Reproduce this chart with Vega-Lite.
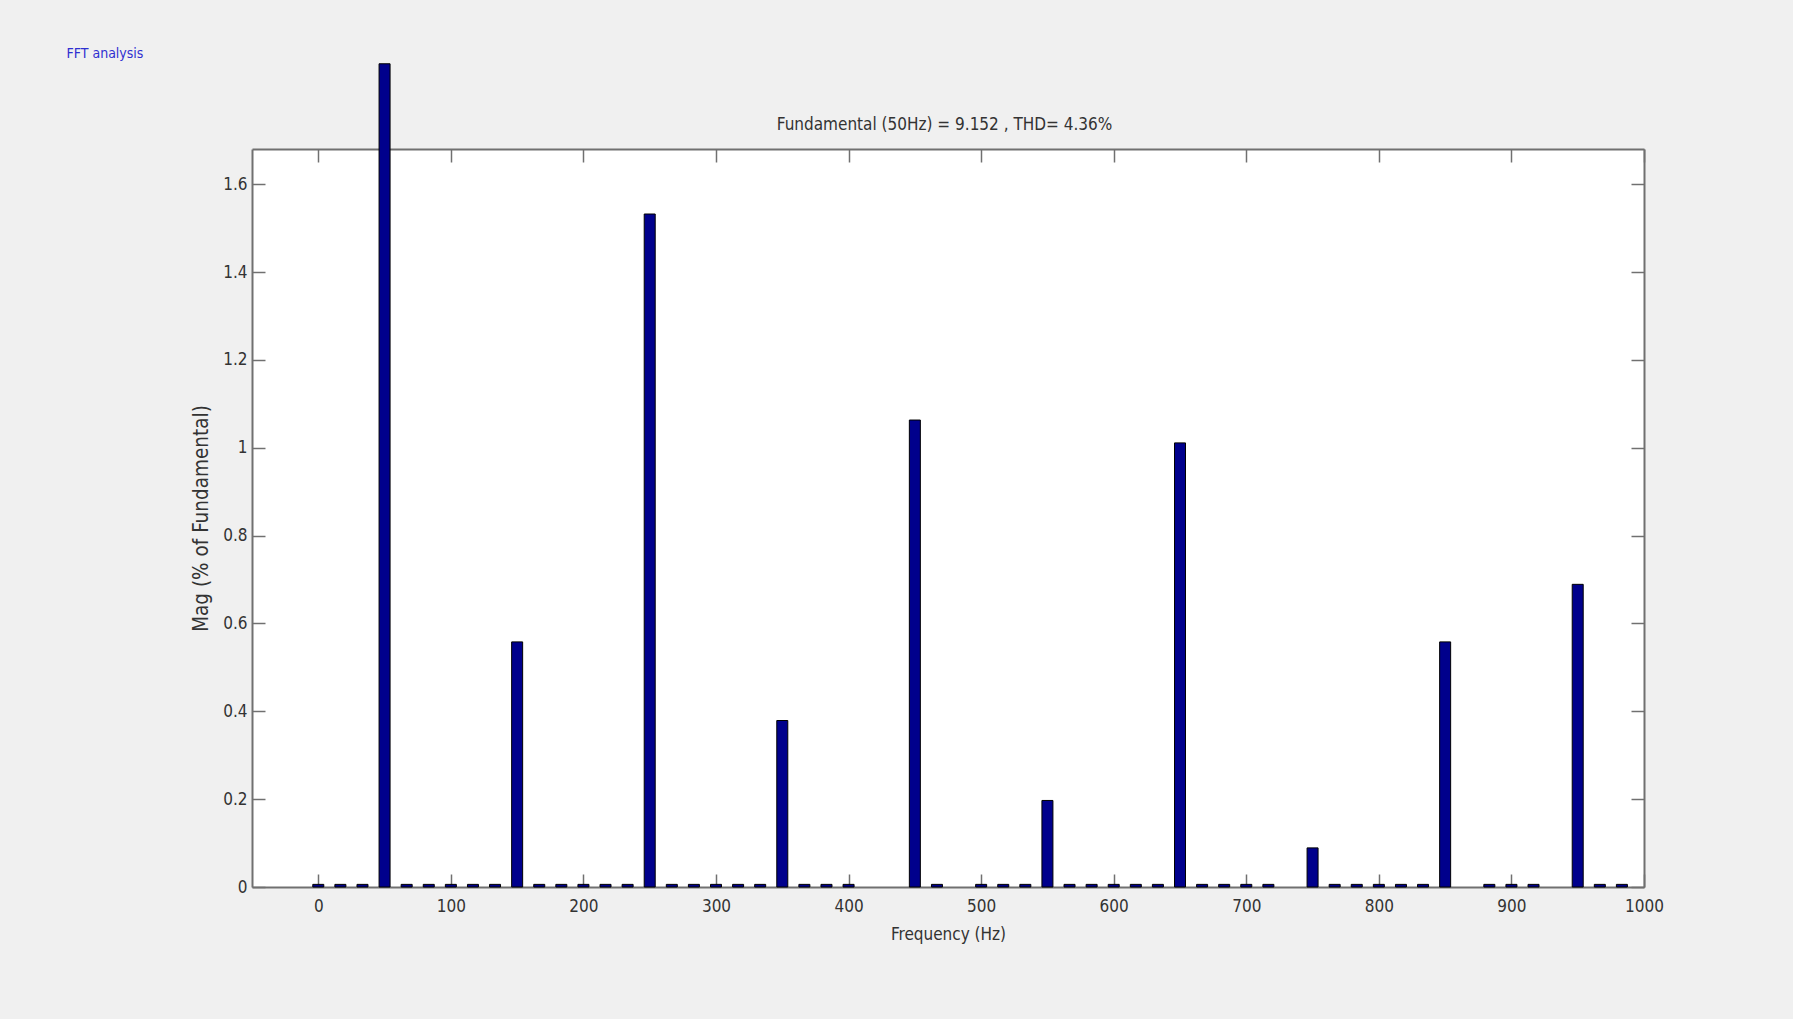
{
  "$schema": "https://vega.github.io/schema/vega-lite/v6.json",
  "autosize": {"type": "none"},
  "width": 1392,
  "height": 738,
  "padding": {"left": 252, "top": 149, "right": 149, "bottom": 132},
  "background": "#f0f0f0",
  "config": {
    "view": {"fill": "white", "stroke": null},
    "font": "Liberation Sans Narrow, DejaVu Sans Condensed, Liberation Sans, sans-serif",
    "axis": {
      "grid": false,
      "domainColor": "#707070",
      "domainWidth": 2,
      "tickColor": "#707070",
      "tickWidth": 1.5,
      "tickSize": -13,
      "labelFlush": false,
      "labelFont": "Liberation Sans Narrow, DejaVu Sans Condensed, Liberation Sans, sans-serif",
      "labelFontSize": 17,
      "labelColor": "#333333",
      "titleFont": "Liberation Sans Narrow, DejaVu Sans Condensed, Liberation Sans, sans-serif",
      "titleFontSize": 17,
      "titleFontWeight": "normal",
      "titleColor": "#333333"
    }
  },
  "data": {
    "values": [
      {"freq": 0, "mag": 0.006},
      {"freq": 16.67, "mag": 0.006},
      {"freq": 33.33, "mag": 0.006},
      {"freq": 50, "mag": 1.874},
      {"freq": 66.67, "mag": 0.006},
      {"freq": 83.33, "mag": 0.006},
      {"freq": 100, "mag": 0.006},
      {"freq": 116.67, "mag": 0.006},
      {"freq": 133.33, "mag": 0.006},
      {"freq": 150, "mag": 0.558},
      {"freq": 166.67, "mag": 0.006},
      {"freq": 183.33, "mag": 0.006},
      {"freq": 200, "mag": 0.006},
      {"freq": 216.67, "mag": 0.006},
      {"freq": 233.33, "mag": 0.006},
      {"freq": 250, "mag": 1.532},
      {"freq": 266.67, "mag": 0.006},
      {"freq": 283.33, "mag": 0.006},
      {"freq": 300, "mag": 0.006},
      {"freq": 316.67, "mag": 0.006},
      {"freq": 333.33, "mag": 0.006},
      {"freq": 350, "mag": 0.379},
      {"freq": 366.67, "mag": 0.006},
      {"freq": 383.33, "mag": 0.006},
      {"freq": 400, "mag": 0.006},
      {"freq": 416.67, "mag": 0},
      {"freq": 433.33, "mag": 0},
      {"freq": 450, "mag": 1.063},
      {"freq": 466.67, "mag": 0.006},
      {"freq": 483.33, "mag": 0},
      {"freq": 500, "mag": 0.006},
      {"freq": 516.67, "mag": 0.006},
      {"freq": 533.33, "mag": 0.006},
      {"freq": 550, "mag": 0.197},
      {"freq": 566.67, "mag": 0.006},
      {"freq": 583.33, "mag": 0.006},
      {"freq": 600, "mag": 0.006},
      {"freq": 616.67, "mag": 0.006},
      {"freq": 633.33, "mag": 0.006},
      {"freq": 650, "mag": 1.011},
      {"freq": 666.67, "mag": 0.006},
      {"freq": 683.33, "mag": 0.006},
      {"freq": 700, "mag": 0.006},
      {"freq": 716.67, "mag": 0.006},
      {"freq": 733.33, "mag": 0},
      {"freq": 750, "mag": 0.089},
      {"freq": 766.67, "mag": 0.006},
      {"freq": 783.33, "mag": 0.006},
      {"freq": 800, "mag": 0.006},
      {"freq": 816.67, "mag": 0.006},
      {"freq": 833.33, "mag": 0.006},
      {"freq": 850, "mag": 0.558},
      {"freq": 866.67, "mag": 0},
      {"freq": 883.33, "mag": 0.006},
      {"freq": 900, "mag": 0.006},
      {"freq": 916.67, "mag": 0.006},
      {"freq": 933.33, "mag": 0},
      {"freq": 950, "mag": 0.689},
      {"freq": 966.67, "mag": 0.006},
      {"freq": 983.33, "mag": 0.006},
      {"freq": 1000, "mag": 0}
    ]
  },
  "layer": [
    {
      "mark": {"type": "bar", "orient": "vertical", "width": 11, "fill": "#00008c", "stroke": "#000000"},
      "encoding": {
        "x": {
          "field": "freq", "type": "quantitative",
          "scale": {"domain": [-50, 1000], "nice": false, "zero": false, "padding": 0},
          "axis": {"orient": "bottom", "values": [0, 100, 200, 300, 400, 500, 600, 700, 800, 900, 1000], "format": "d", "labelPadding": 24, "title": "Frequency (Hz)", "titleY": 47, "titleBaseline": "middle"}
        },
        "y": {
          "field": "mag", "type": "quantitative", "stack": null,
          "scale": {"domain": [0, 1.68], "nice": false, "padding": 0},
          "axis": {"orient": "left", "values": [0, 0.2, 0.4, 0.6, 0.8, 1, 1.2, 1.4, 1.6], "format": "~g", "labelPadding": 18, "title": "Mag (% of Fundamental)", "titleFontSize": 20.5, "titleX": -51, "titleY": 369, "titleBaseline": "middle", "titleAlign": "center"}
        },
        "strokeWidth": {"condition": {"test": "datum.mag > 0", "value": 1}, "value": 0}
      }
    },
    {
      "mark": {"type": "point", "opacity": 0},
      "encoding": {
        "x": {
          "field": "freq", "type": "quantitative",
          "axis": {"orient": "top", "values": [0, 100, 200, 300, 400, 500, 600, 700, 800, 900, 1000], "labels": false, "title": "Fundamental (50Hz) = 9.152 , THD= 4.36%", "titleX": 692, "titleY": -25, "titleBaseline": "middle", "titleAlign": "center"}
        },
        "y": {
          "field": "mag", "type": "quantitative",
          "axis": {"orient": "right", "values": [0, 0.2, 0.4, 0.6, 0.8, 1, 1.2, 1.4, 1.6], "labels": false, "title": "FFT analysis", "titleAngle": 0, "titleX": -1578, "titleY": -96, "titleAlign": "left", "titleBaseline": "middle", "titleColor": "#2f2fd0", "titleFontSize": 14}
        }
      }
    }
  ],
  "resolve": {"axis": {"x": "independent", "y": "independent"}}
}
